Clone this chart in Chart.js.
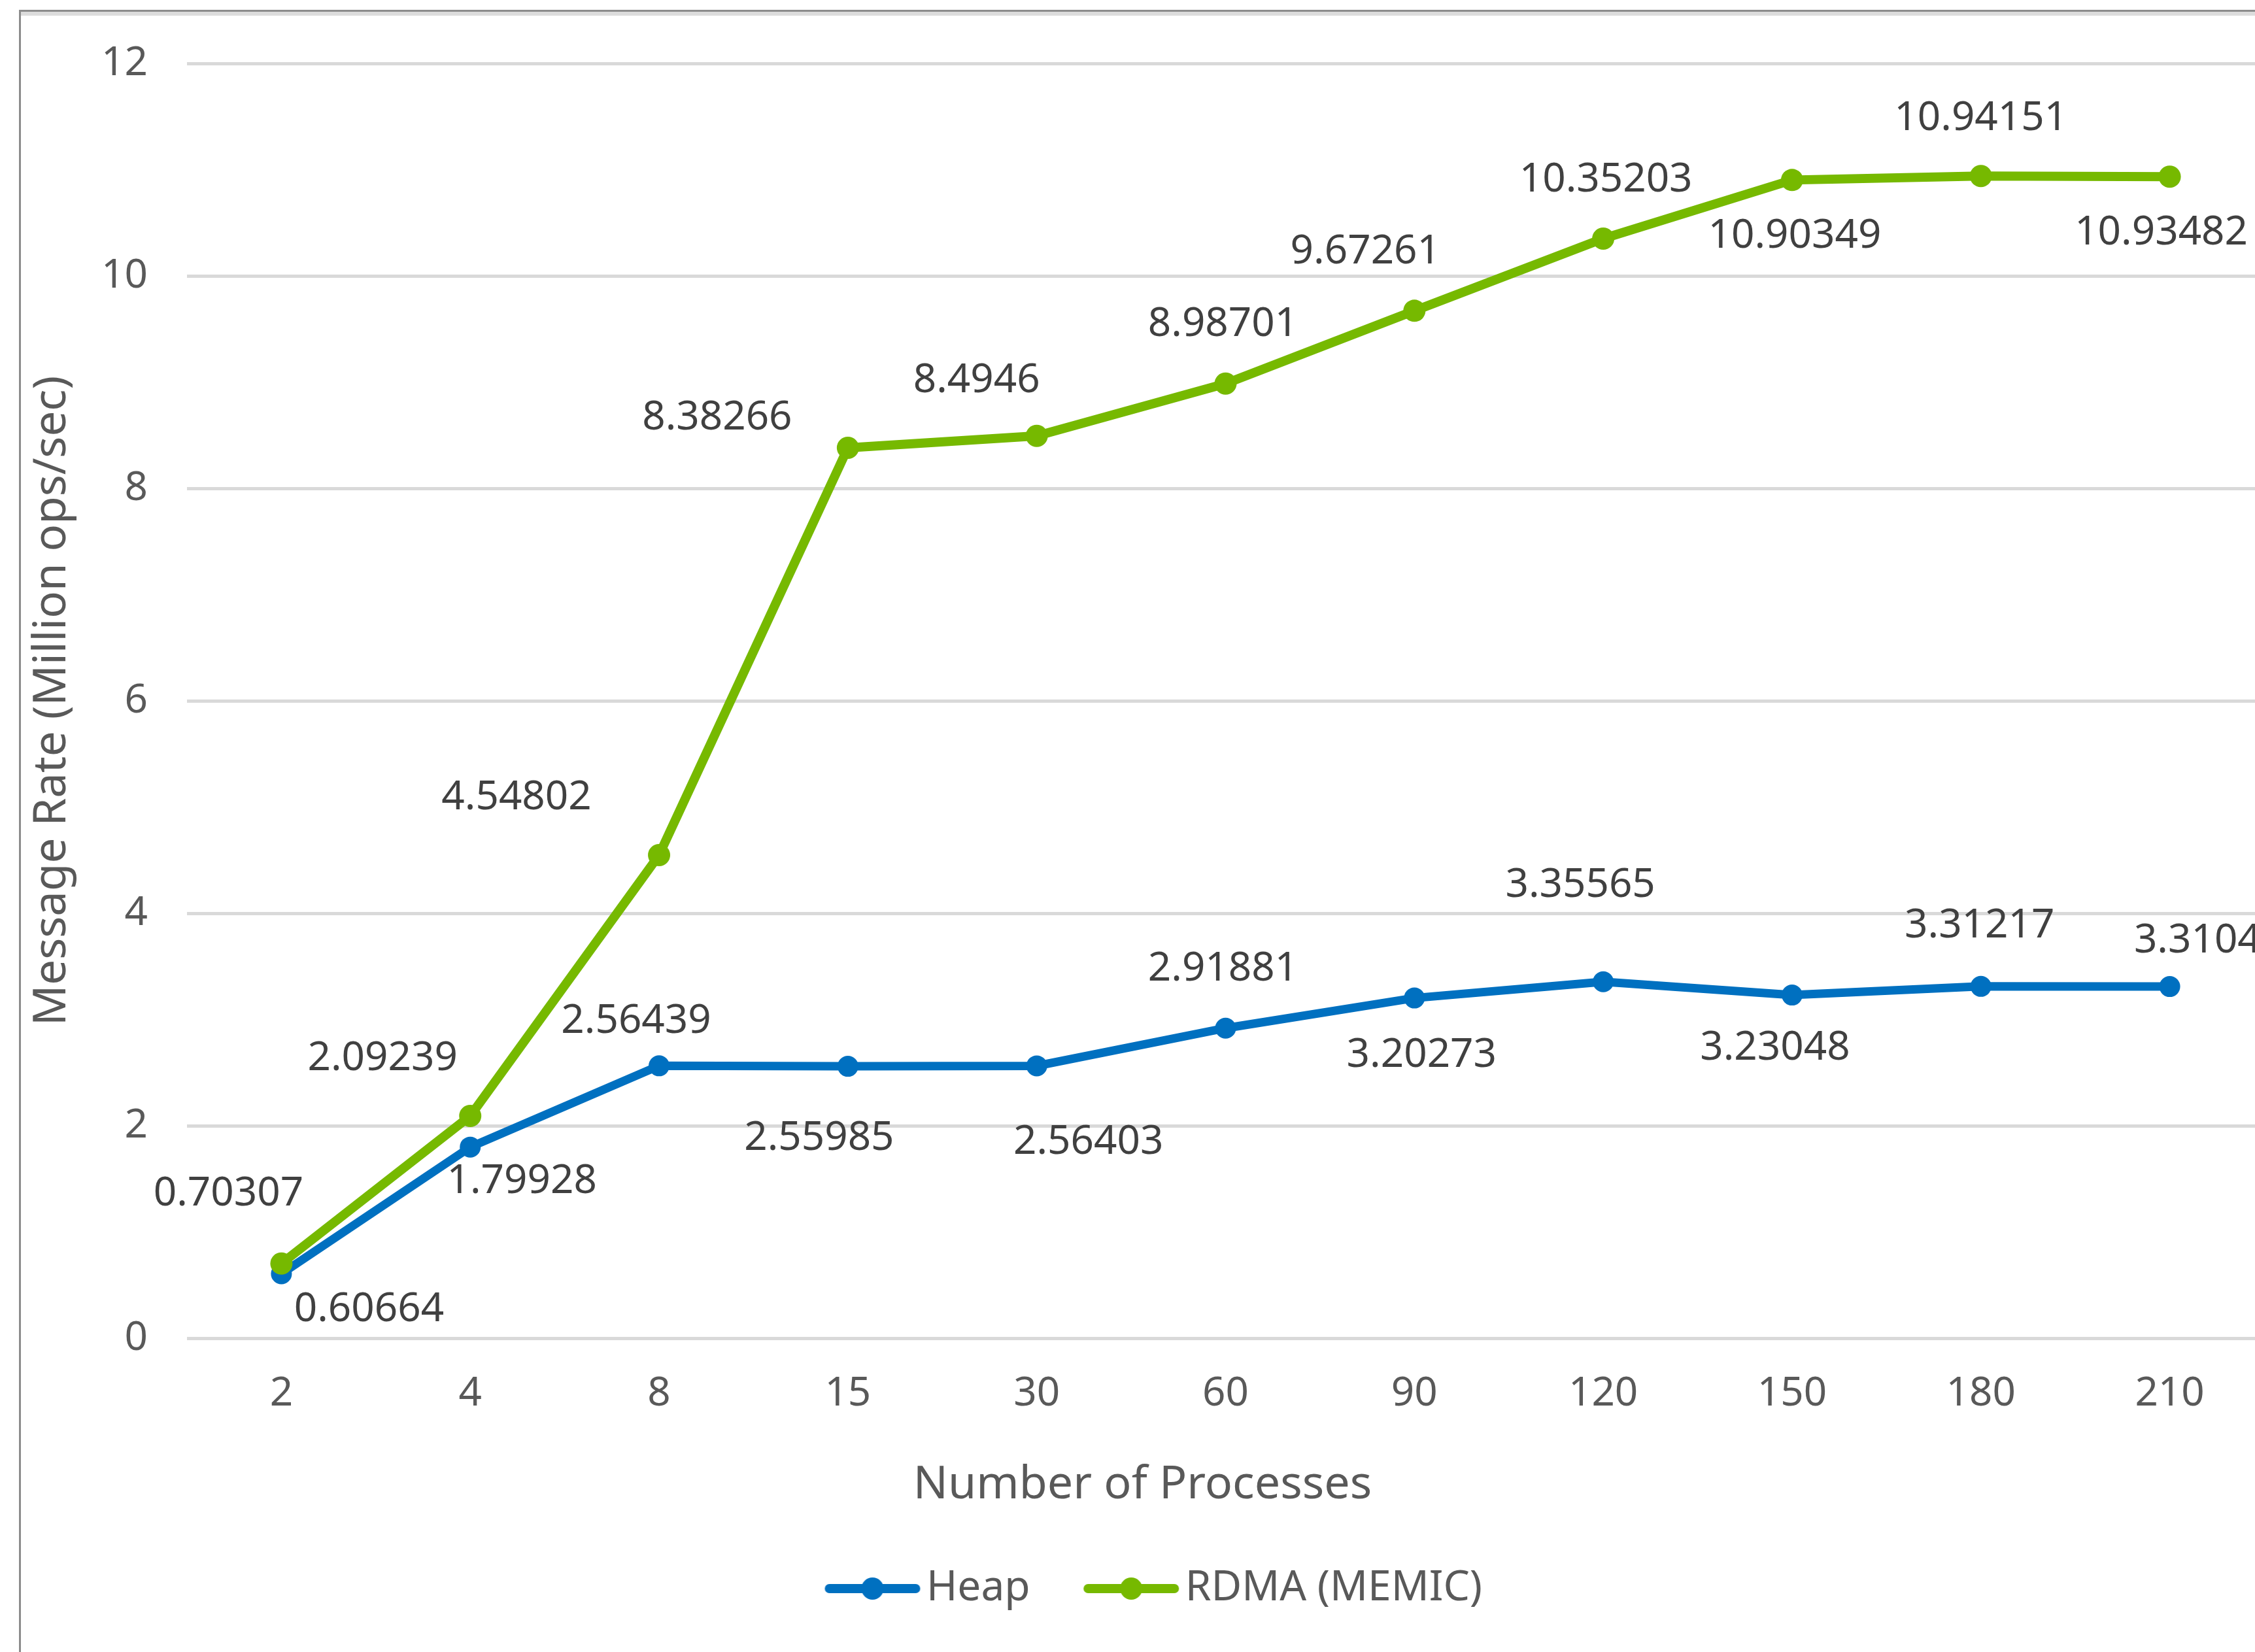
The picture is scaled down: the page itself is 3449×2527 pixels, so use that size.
<!DOCTYPE html>
<html>
<head>
<meta charset="utf-8">
<script src="https://cdn.jsdelivr.net/npm/chart.js@4.4.1/dist/chart.umd.min.js"></script>
<style>
  html, body { margin: 0; padding: 0; background: #fff; }
  body { width: 3449px; height: 2527px; overflow: hidden; position: relative; }
  .frame {
    position: absolute; left: 29px; top: 15px; width: 3500px; height: 2600px;
    border-top: 3px solid #8c8c8c; border-left: 3px solid #8c8c8c;
    box-shadow: inset 0 6px 0 #dcdcdc;
  }
  #wrap { position: absolute; left: 0; top: 0; width: 3480px; height: 2527px; }
</style>
</head>
<body>
<div class="frame"></div>
<div id="wrap"><canvas id="rateChart" width="3480" height="2527"></canvas></div>
<script>
// ---- data ----
const processes = ["2", "4", "8", "15", "30", "60", "90", "120", "150", "180", "210"];
const heapRate = [0.60664, 1.79928, 2.56439, 2.55985, 2.56403, 2.91881, 3.20273, 3.35565, 3.23048, 3.31217, 3.31045];
const rdmaRate = [0.70307, 2.09239, 4.54802, 8.38266, 8.4946, 8.98701, 9.67261, 10.35203, 10.90349, 10.94151, 10.93482];
const seriesNames = ["Heap", "RDMA (MEMIC)"];
const yMin = 0, yMax = 12, yStep = 2;

// label placement (offset from the point, px)
const heapLabelOffsets = [[134, 55], [79, 53], [-35, -68], [-44, 110], [79, 117], [-4, -90], [11, 88], [-35, -147], [-26, 81], [-2, -92], [60, -70]];
const rdmaLabelOffsets = [[-81, -106], [-134, -88], [-218, -88], [-200, -46], [-92, -84], [-4, -90], [-75, -90], [4, -90], [4, 86], [0, -88], [-13, 86]];

const BLUE = "#0070c0";
const GREEN = "#76b900";
const TEXT = "#595959";
const FONT = "'Noto Sans', sans-serif";

/* legend icon: line with a dot, drawn on a small canvas */
function makeLegendIcon(color) {
    const c = document.createElement("canvas");
    c.width = 300;
    c.height = 44;
    const g = c.getContext("2d");
    g.strokeStyle = color;
    g.lineWidth = 14;
    g.lineCap = "round";
    g.beginPath();
    g.moveTo(112, 22);
    g.lineTo(244, 22);
    g.stroke();
    g.fillStyle = color;
    g.beginPath();
    g.arc(178, 22, 17, 0, Math.PI * 2);
    g.fill();
    return c;
}
const legendIcons = [makeLegendIcon(BLUE), makeLegendIcon(GREEN)];

/* =========================
   DATA LABELS PLUGIN
========================= */
const pointLabels = {
    id: "pointLabels",
    afterDatasetsDraw(chart) {
        const ctx = chart.ctx;
        ctx.save();
        ctx.font = "62px " + FONT;
        ctx.fillStyle = "#404040";
        ctx.textAlign = "center";
        ctx.textBaseline = "middle";
        chart.data.datasets.forEach((ds, i) => {
            const meta = chart.getDatasetMeta(i);
            const offs = ds.labelOffsets;
            meta.data.forEach((pt, j) => {
                ctx.fillText(String(ds.data[j]), pt.x + offs[j][0], pt.y + offs[j][1]);
            });
        });
        ctx.restore();
    }
};

new Chart(document.getElementById("rateChart"), {
    type: "line",
    data: {
        labels: processes,
        datasets: [
            {
                label: seriesNames[0],
                data: heapRate,
                labelOffsets: heapLabelOffsets,
                borderColor: BLUE,
                backgroundColor: BLUE,
                borderWidth: 13,
                pointRadius: 16,
                pointBorderWidth: 0,
                tension: 0,
                order: 1
            },
            {
                label: seriesNames[1],
                data: rdmaRate,
                labelOffsets: rdmaLabelOffsets,
                borderColor: GREEN,
                backgroundColor: GREEN,
                borderWidth: 14,
                pointRadius: 17,
                pointBorderWidth: 0,
                tension: 0,
                order: 0
            }
        ]
    },
    options: {
        responsive: false,
        animation: false,
        layout: { padding: { top: 97, left: 31, right: 16, bottom: 55 } },
        scales: {
            x: {
                offset: true,
                grid: { display: false },
                border: { display: false },
                ticks: { color: TEXT, font: { size: 62, family: FONT }, padding: 40 },
                afterFit(scale) { scale.height = 153; }
            },
            y: {
                min: yMin,
                max: yMax,
                grid: { color: "#d9d9d9", lineWidth: 5, drawTicks: false },
                border: { display: false },
                ticks: { stepSize: yStep, color: TEXT, font: { size: 62, family: FONT }, padding: 60 },
                title: {
                    display: true,
                    text: "Message Rate (Million ops/sec)",
                    color: TEXT,
                    font: { size: 69, family: FONT },
                    padding: { top: 8, bottom: 0 }
                },
                afterFit(scale) { scale.width = 255; }
            }
        },
        plugins: {
            tooltip: { enabled: false },
            title: {
                display: true,
                position: "bottom",
                weight: 500,
                text: "Number of Processes",
                color: TEXT,
                font: { size: 70, family: FONT, weight: "normal" },
                padding: { top: 30, bottom: 36 }
            },
            legend: {
                position: "bottom",
                labels: {
                    usePointStyle: true,
                    pointStyleWidth: 157,
                    boxHeight: 40,
                    padding: 48,
                    color: TEXT,
                    font: { size: 64, family: FONT },
                    sort: (a, b) => a.datasetIndex - b.datasetIndex,
                    generateLabels(chart) {
                        const items = Chart.defaults.plugins.legend.labels.generateLabels(chart);
                        items.forEach(it => { it.pointStyle = legendIcons[it.datasetIndex]; });
                        return items;
                    }
                }
            }
        }
    },
    plugins: [pointLabels]
});
</script>
</body>
</html>
